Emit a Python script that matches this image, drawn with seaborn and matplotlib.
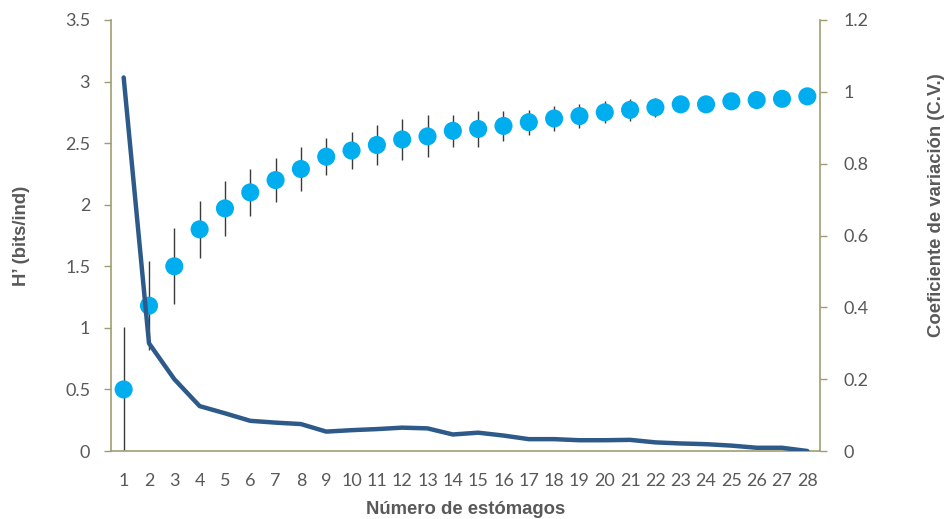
import numpy as np
import pandas as pd
import matplotlib
matplotlib.use("Agg")
import matplotlib.pyplot as plt
import seaborn as sns

# ---- data ----
estomagos = list(range(1, 29))
h_mean = [0.50, 1.18, 1.50, 1.80, 1.97, 2.10, 2.20, 2.29, 2.39, 2.44,
          2.485, 2.53, 2.555, 2.60, 2.615, 2.64, 2.67, 2.70, 2.72, 2.75,
          2.77, 2.79, 2.815, 2.815, 2.84, 2.85, 2.86, 2.88]
h_err = [0.51, 0.36, 0.31, 0.23, 0.22, 0.19, 0.18, 0.18, 0.15, 0.15,
         0.16, 0.17, 0.17, 0.13, 0.145, 0.12, 0.10, 0.10, 0.10, 0.09,
         0.09, 0.08, 0.05, 0.03, 0.02, 0.02, 0.01, 0.0]
cv = [1.04, 0.30, 0.20, 0.125, 0.105, 0.084, 0.079, 0.075, 0.054, 0.058,
      0.061, 0.065, 0.063, 0.046, 0.051, 0.043, 0.033, 0.033, 0.030, 0.030,
      0.031, 0.024, 0.021, 0.019, 0.015, 0.009, 0.009, 0.0]
left_ticks = [0, 0.5, 1, 1.5, 2, 2.5, 3, 3.5]
left_labels = ["0", "0.5", "1", "1.5", "2", "2.5", "3", "3.5"]
right_ticks = [0, 0.2, 0.4, 0.6, 0.8, 1.0, 1.2]
right_labels = ["0", "0.2", "0.4", "0.6", "0.8", "1", "1.2"]

df = pd.DataFrame({"n": estomagos, "h": h_mean, "err": h_err, "cv": cv})

sns.set_style("white")
plt.rcParams["font.family"] = ["Lato", "DejaVu Sans"]

spine_c = "#A19D72"
tick_c = "#595959"
point_c = "#00AEEF"
line_c = "#2E5A8A"
lab_font = ["Liberation Sans", "DejaVu Sans"]

fig = plt.figure(figsize=(9.48, 5.19), dpi=100)
ax = fig.add_axes([111/948, 1-451/519, (820-111)/948, (451-20)/519])

ax.errorbar(df["n"], df["h"], yerr=df["err"], fmt="none", ecolor="#3A3A3A",
            elinewidth=1.0, capsize=0, zorder=2)
sns.scatterplot(data=df, x="n", y="h", ax=ax, color=point_c, s=170,
                edgecolor="none", linewidth=0, zorder=3, legend=False)

ax.set_xlim(0.5, 28.5)
ax.set_ylim(0, 3.5)
ax.set_yticks(left_ticks)
ax.set_yticklabels(left_labels)
ax.set_xticks(estomagos)
ax.set_xticklabels([str(v) for v in estomagos])
ax.set_xticks(np.arange(0.5, 29, 1.0), minor=True)
ax.tick_params(axis="x", which="major", length=0, pad=16, labelsize=13, labelcolor=tick_c)
ax.tick_params(axis="x", which="minor", length=5, width=1, color=spine_c, direction="out")
ax.tick_params(axis="y", which="major", length=5, width=1, color=spine_c, direction="out",
               labelsize=13, labelcolor=tick_c, pad=10)

for s in ["top", "right"]:
    ax.spines[s].set_visible(False)
for s in ["left", "bottom"]:
    ax.spines[s].set_color(spine_c)
    ax.spines[s].set_linewidth(1.2)

ax.set_xlabel("Número de estómagos", family=lab_font,
              fontweight="bold", fontsize=13.3, color=tick_c)
ax.xaxis.set_label_coords(0.5, -0.115)
ax.set_ylabel("H’ (bits/ind)", family=lab_font,
              fontweight="bold", fontsize=13.3, color=tick_c)
ax.yaxis.set_label_coords(-0.114, 0.5)

ax2 = ax.twinx()
sns.lineplot(data=df, x="n", y="cv", ax=ax2, color=line_c, linewidth=3.2, zorder=4)
ax2.set_ylim(0, 1.2)
ax2.set_xlim(0.5, 28.5)
ax2.set_yticks(right_ticks)
ax2.set_yticklabels(right_labels)
ax2.tick_params(axis="y", which="major", length=5, width=1, color=spine_c, direction="out",
                labelsize=13, labelcolor=tick_c, pad=12)
for s in ["top", "left", "bottom"]:
    ax2.spines[s].set_visible(False)
ax2.spines["right"].set_color(spine_c)
ax2.spines["right"].set_linewidth(1.2)
ax2.set_ylabel("Coeficiente de variación (C.V.)", family=lab_font,
               fontweight="bold", fontsize=13.3, color=tick_c)
ax2.yaxis.set_label_coords(1.152, 0.57)
ax2.set_xlabel("")

fig.savefig("out.png", dpi=100)
